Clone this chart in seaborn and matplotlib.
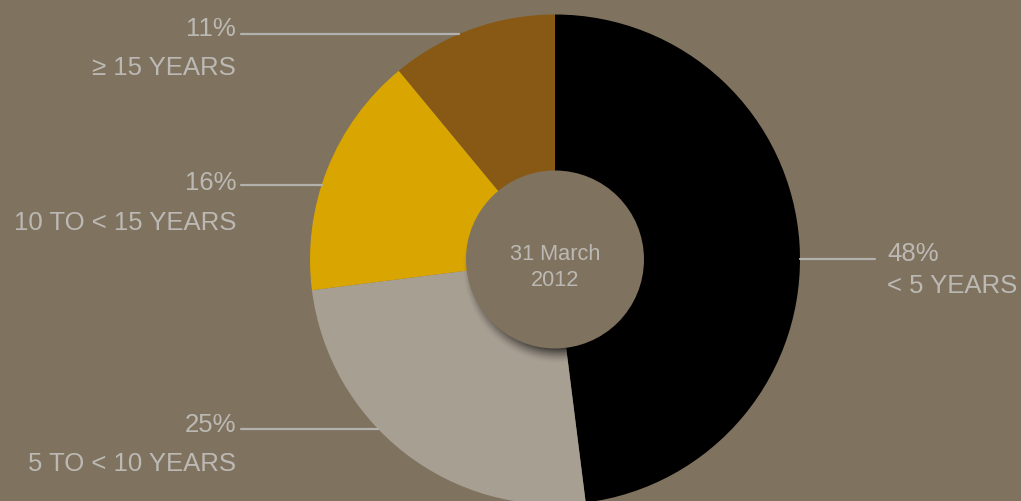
import numpy as np
import matplotlib
matplotlib.use("Agg")
import matplotlib.pyplot as plt
from matplotlib.patches import Circle
import seaborn as sns

# Maturity profile at 31 March 2012
categories = ["< 5 YEARS", "5 TO < 10 YEARS", "10 TO < 15 YEARS", "\u2265 15 YEARS"]
shares = [48, 25, 16, 11]
pct_labels = ["48%", "25%", "16%", "11%"]
center_lines = ["31 March", "2012"]

BG = "#7f725f"
TEXT = "#bcb9b4"
LINE = "#b3b1ae"
slice_colors = sns.color_palette(["#000000", "#a89f93", "#d9a500", "#885915"])

sns.set_theme(style="white")
plt.rcParams["font.family"] = ["Liberation Sans", "DejaVu Sans"]

W, H = 1021, 502
fig = plt.figure(figsize=(W / 100, H / 100), dpi=100, facecolor=BG)
ax = fig.add_axes([0, 0, 1, 1])
ax.set_facecolor(BG)

cx, cy, R = 555, H - 260.5, 245
hole_r = 89

ax.pie(shares, colors=slice_colors, startangle=90, counterclock=False,
       center=(cx, cy), radius=R, wedgeprops=dict(linewidth=0), frame=True)

# Soft drop shadow under the centre disc
n = 400
ext = hole_r + 30
xs = np.linspace(cx - ext, cx + ext, n)
ys = np.linspace(cy - ext, cy + ext, n)
X, Y = np.meshgrid(xs, ys)
d = np.hypot(X - (cx + 4), Y - (cy - 7))
alpha = np.clip((hole_r + 8 - d) / 18.0, 0, 1) ** 1.6 * 0.85
rgba = np.zeros((n, n, 4))
rgba[..., 3] = alpha
ax.imshow(rgba, extent=(cx - ext, cx + ext, cy - ext, cy + ext), origin="lower",
          zorder=3, interpolation="bilinear")

ax.add_patch(Circle((cx, cy), hole_r, facecolor=BG, edgecolor="none", zorder=4))
for txt, base in zip(center_lines, [260, 286]):
    ax.text(cx, H - base, txt, ha="center", va="baseline", color=TEXT,
            fontsize=15.7, zorder=5)

def edge_x(y_pix, side):
    dy = (H - y_pix) - cy
    dx = np.sqrt(max(R ** 2 - dy ** 2, 0))
    return cx - dx if side == "left" else cx + dx

FS = 18.5
# Left-hand labels: (slice index, leader y, pct baseline, name baseline)
left = [(3, 35, 36, 75), (2, 186, 190, 230), (1, 430, 432, 471)]
for i, ly, py, ny in left:
    ax.plot([241, edge_x(ly, "left")], [H - ly, H - ly], color=LINE, lw=1.6, zorder=2)
    ax.text(236, H - py, pct_labels[i], ha="right", va="baseline", color=TEXT, fontsize=FS)
    ax.text(236, H - ny, categories[i], ha="right", va="baseline", color=TEXT, fontsize=FS)

# Right-hand label for the largest slice
ax.plot([edge_x(260, "right"), 875], [H - 260, H - 260], color=LINE, lw=1.6, zorder=2)
ax.text(887, H - 261, pct_labels[0], ha="left", va="baseline", color=TEXT, fontsize=FS)
ax.text(887, H - 293, categories[0], ha="left", va="baseline", color=TEXT, fontsize=FS)

ax.set_xlim(0, W)
ax.set_ylim(0, H)
ax.set_aspect("equal")
ax.axis("off")

fig.savefig("out.png", dpi=100, facecolor=BG)
